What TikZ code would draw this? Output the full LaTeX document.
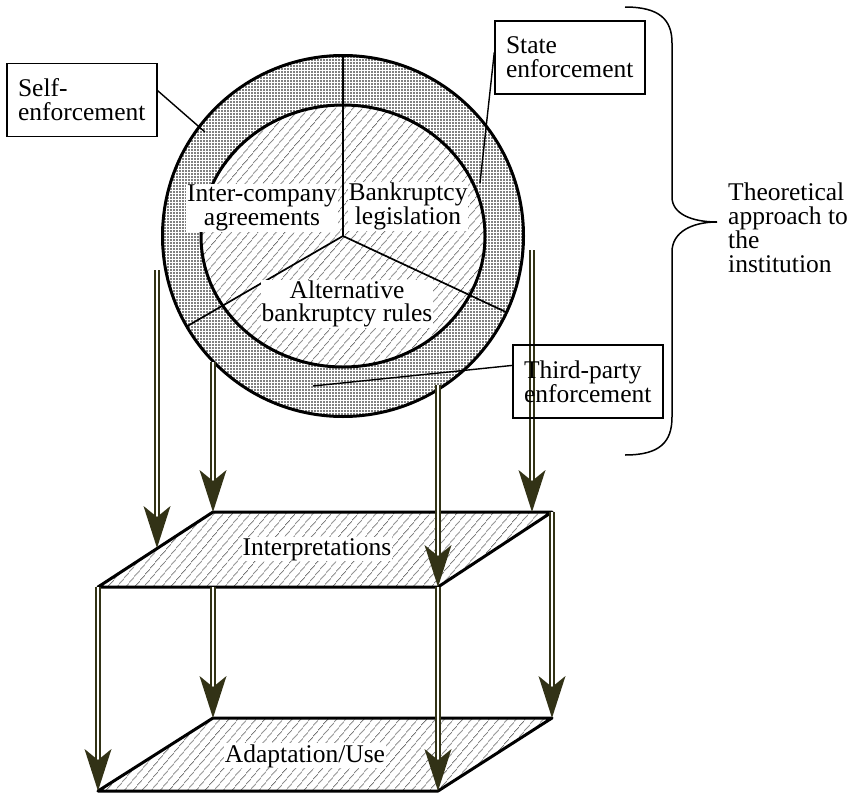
\documentclass[tikz,border=0pt]{standalone}
\usepackage{fontspec}
\setmainfont{Liberation Serif}
\usetikzlibrary{patterns,patterns.meta}
\definecolor{arrowc}{RGB}{50,50,22}
\begin{document}
\begin{tikzpicture}[x=1pt,y=-1pt,
  txt/.style={font=\fontsize{25.5}{24}\selectfont, inner sep=0pt},
  wtxt/.style={txt, fill=white, inner sep=1pt, anchor=base},
  ctxt/.style={txt, fill=white, inner sep=1pt, align=center},
  ebox/.style={txt, draw, line width=1.4pt, align=left, text width=128pt, inner xsep=11pt, minimum height=73pt},
  conn/.style={line width=1.4pt},
  thickline/.style={line width=3pt, line join=round},
  secline/.style={line width=1.7pt},
  shaft/.style={draw=arrowc, double=white, line width=1.8pt, double distance=2pt, shorten >=22pt},
  dtip/.pic={\fill[arrowc] (0,0) -- (-13.5,-42) -- (0,-31) -- (13.5,-42) -- cycle;},
  hatch/.style={pattern={Lines[angle=50,distance=6.5pt,line width=0.6pt]}, pattern color=black!85},
  dotfill/.style={pattern={Dots[radius=0.85pt,distance=3pt]}, pattern color=black}]
\useasboundingbox (0,0) rectangle (857,795);
% ring and core
\coordinate (c) at (343,236);
\path[dotfill] (c) circle[radius=180.5pt];
\fill[white] (c) ellipse[x radius=142pt, y radius=131pt];
\path[hatch] (c) ellipse[x radius=142pt, y radius=131pt];
\draw[thickline] (c) circle[radius=180.5pt];
\draw[thickline] (c) ellipse[x radius=142pt, y radius=131pt];
\coordinate (s1) at (343,55.5);
\coordinate (s2) at (187.1,326.2);
\coordinate (s3) at (506.1,312.1);
\draw[secline] (c) -- (s1);
\draw[secline] (c) -- (s2);
\draw[secline] (c) -- (s3);
\node[ctxt, font=\fontsize{25.5}{23.5}\selectfont, anchor=north] (ic) at (262,184) {Inter-company\\agreements};
\node[ctxt, font=\fontsize{25.5}{23.5}\selectfont, anchor=north] (bl) at (408,182) {Bankruptcy\\legislation};
\node[ctxt, font=\fontsize{25.5}{23.5}\selectfont, anchor=north] (ab) at (347,279.5) {Alternative\\bankruptcy rules};
% parallelograms
\coordinate (p1) at (213,512);
\coordinate (p2) at (552,512);
\coordinate (p3) at (438,587);
\coordinate (p4) at (98,587);
\coordinate (q1) at (213,718);
\coordinate (q2) at (552,718);
\coordinate (q3) at (438,791);
\coordinate (q4) at (98,791);
\path[hatch] (p1) -- (p2) -- (p3) -- (p4) -- cycle;
\draw[thickline] (p1) -- (p2) -- (p3) -- (p4) -- cycle;
\path[hatch] (q1) -- (q2) -- (q3) -- (q4) -- cycle;
\draw[thickline] (q1) -- (q2) -- (q3) -- (q4) -- cycle;
\node[wtxt] (interp) at (317,555) {Interpretations};
\node[wtxt] (adapt) at (305,762) {Adaptation/Use};
% arrows
\coordinate (a1s) at (157,270);
\coordinate (a1e) at (157,548);
\coordinate (a2s) at (213,362);
\coordinate (a3s) at (438,385);
\coordinate (a4s) at (532,250);
\coordinate (a4e) at (532,512);
\coordinate (a6s) at (213,587);
\draw[shaft] (a1s) -- (a1e); \pic at (a1e) {dtip};
\draw[shaft] (a2s) -- (p1);  \pic at (p1) {dtip};
\draw[shaft] (a3s) -- (p3);  \pic at (p3) {dtip};
\draw[shaft] (a4s) -- (a4e); \pic at (a4e) {dtip};
\draw[shaft] (p4) -- (q4);   \pic at (q4) {dtip};
\draw[shaft] (a6s) -- (q1);  \pic at (q1) {dtip};
\draw[shaft] (p2) -- (q2);   \pic at (q2) {dtip};
\draw[shaft] (p3) -- (q3);   \pic at (q3) {dtip};
% boxes and leaders
\node[ebox] (self) at (82,100) {Self-\\enforcement};
\node[ebox] (state) at (570,57.5) {State\\enforcement};
\node[ebox] (third) at (588,381.5) {Third-party\\enforcement};
\coordinate (selfEnd) at (205,132);
\coordinate (stateEnd) at (480,183);
\coordinate (thirdEnd) at (313,386);
\draw[conn] (self.7) -- (selfEnd);
\draw[conn] (state.176) -- (stateEnd);
\draw[conn] (third.168) -- (thirdEnd);
% brace and label
\draw[line width=1.5pt] (625,7) .. controls (660,7) and (672,20) .. (672,43) -- (672,197) .. controls (672,214) and (692,222) .. (717,222) .. controls (692,222) and (672,232) .. (672,252) -- (672,417) .. controls (672,442) and (660,455) .. (625,455);
\node[txt, align=left, anchor=north west] (theo) at (728,182.5) {Theoretical\\approach to\\the\\institution};
\end{tikzpicture}
\end{document}
